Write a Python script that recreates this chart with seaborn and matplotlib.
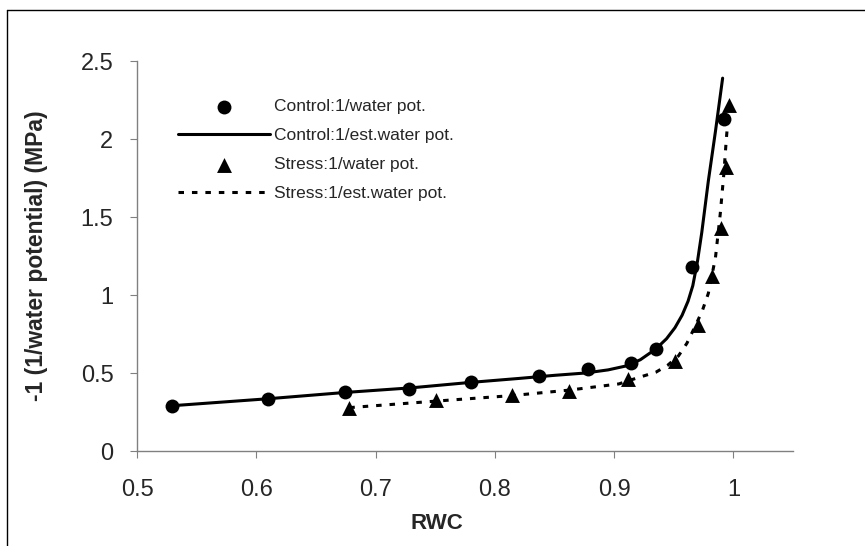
import matplotlib
matplotlib.use("Agg")
import numpy as np
import pandas as pd
import matplotlib.pyplot as plt
from matplotlib.lines import Line2D
import seaborn as sns

ctrl_rwc = [0.529, 0.610, 0.674, 0.728, 0.780, 0.837, 0.878, 0.914, 0.935, 0.965, 0.992]
ctrl_inv = [0.29, 0.335, 0.38, 0.40, 0.445, 0.48, 0.525, 0.565, 0.655, 1.18, 2.13]

stress_rwc = [0.678, 0.751, 0.814, 0.862, 0.912, 0.951, 0.970, 0.982, 0.990, 0.994, 0.996]
stress_inv = [0.275, 0.325, 0.36, 0.385, 0.46, 0.575, 0.81, 1.12, 1.43, 1.82, 2.22]

# fitted (estimated) curves
ctrl_fit_rwc = [0.529, 0.610, 0.674, 0.730, 0.780, 0.820, 0.850, 0.876, 0.895, 0.910,
                0.922, 0.935, 0.944, 0.951, 0.957, 0.962, 0.966, 0.970, 0.9735,
                0.979, 0.985, 0.991]
ctrl_fit = [0.29, 0.335, 0.375, 0.405, 0.44, 0.465, 0.485, 0.50, 0.52, 0.545,
            0.585, 0.654, 0.72, 0.79, 0.87, 0.96, 1.06, 1.22, 1.40,
            1.73, 2.05, 2.39]

stress_fit_rwc = [0.678, 0.751, 0.814, 0.862, 0.904, 0.920, 0.935, 0.945, 0.954,
                  0.961, 0.968, 0.974, 0.979, 0.985, 0.989, 0.992, 0.994, 0.9955]
stress_fit = [0.278, 0.32, 0.355, 0.39, 0.43, 0.47, 0.505, 0.55, 0.61,
              0.69, 0.80, 0.90, 1.01, 1.24, 1.52, 1.775, 1.99, 2.13]

labels = ["Control:1/water pot.", "Control:1/est.water pot.",
          "Stress:1/water pot.", "Stress:1/est.water pot."]
x_ticks = [0.5, 0.6, 0.7, 0.8, 0.9, 1.0]
x_ticklabels = ["0.5", "0.6", "0.7", "0.8", "0.9", "1"]
y_ticks = [0, 0.5, 1, 1.5, 2, 2.5]
y_ticklabels = ["0", "0.5", "1", "1.5", "2", "2.5"]

ctrl_pts = pd.DataFrame({"rwc": ctrl_rwc, "inv": ctrl_inv})
stress_pts = pd.DataFrame({"rwc": stress_rwc, "inv": stress_inv})
ctrl_line = pd.DataFrame({"rwc": ctrl_fit_rwc, "inv": ctrl_fit})
stress_line = pd.DataFrame({"rwc": stress_fit_rwc, "inv": stress_fit})

sns.set_theme(style="white")
plt.rcParams["font.family"] = ["Liberation Sans", "DejaVu Sans"]

fig = plt.figure(figsize=(8.65, 5.46), dpi=100)
ax = fig.add_axes([137 / 865, 1 - 451 / 546, 656 / 865, 390 / 546])

sns.lineplot(data=ctrl_line, x="rwc", y="inv", ax=ax, color="black", lw=2.2,
             estimator=None, sort=False, label=labels[1])
sns.lineplot(data=stress_line, x="rwc", y="inv", ax=ax, color="black", lw=2.2,
             estimator=None, sort=False, label=labels[3], dashes=False)
ax.lines[-1].set_linestyle((0, (1.8, 2.6)))
sns.scatterplot(data=ctrl_pts, x="rwc", y="inv", ax=ax, color="black", marker="o",
                s=100, edgecolor="black", linewidth=0, label=labels[0], zorder=3)
sns.scatterplot(data=stress_pts, x="rwc", y="inv", ax=ax, color="black", marker="^",
                s=115, edgecolor="black", linewidth=0, label=labels[2], zorder=3)

ax.set_xlim(0.5, 1.05)
ax.set_ylim(0, 2.5)
ax.set_xticks(x_ticks)
ax.set_xticklabels(x_ticklabels)
ax.set_yticks(y_ticks)
ax.set_yticklabels(y_ticklabels)
ax.tick_params(axis="both", labelsize=17, direction="out", length=5, width=0.8,
               color="#808080", bottom=True, left=True)
ax.tick_params(axis="x", pad=15)
ax.tick_params(axis="y", pad=12)
for side in ["top", "right"]:
    ax.spines[side].set_visible(False)
for side in ["left", "bottom"]:
    ax.spines[side].set_color("#808080")
    ax.spines[side].set_linewidth(1.0)

ax.set_xlabel("RWC", fontsize=16, fontweight="bold")
ax.set_ylabel("-1 (1/water potential) (MPa)", fontsize=16.5, fontweight="bold")
ax.xaxis.set_label_coords((437 - 137) / 656, -0.16)
ax.yaxis.set_label_coords(-0.135, 0.5)

handles, labs = ax.get_legend_handles_labels()
order = [labs.index(l) for l in labels]
ax.legend([handles[i] for i in order], [labs[i] for i in order],
          loc="upper left", bbox_to_anchor=(0.062, 0.902), frameon=False,
          fontsize=12.5, handlelength=5.3, handletextpad=0.25, labelspacing=0.8,
          borderaxespad=0, borderpad=0)

# outer chart border (left and top edges visible in the original)
fig.add_artist(Line2D([7 / 865, 7 / 865], [0, 1 - 10 / 546], color="black", lw=1))
fig.add_artist(Line2D([7 / 865, 1], [1 - 10 / 546, 1 - 10 / 546], color="black", lw=1))

fig.savefig("out.png", dpi=100)
